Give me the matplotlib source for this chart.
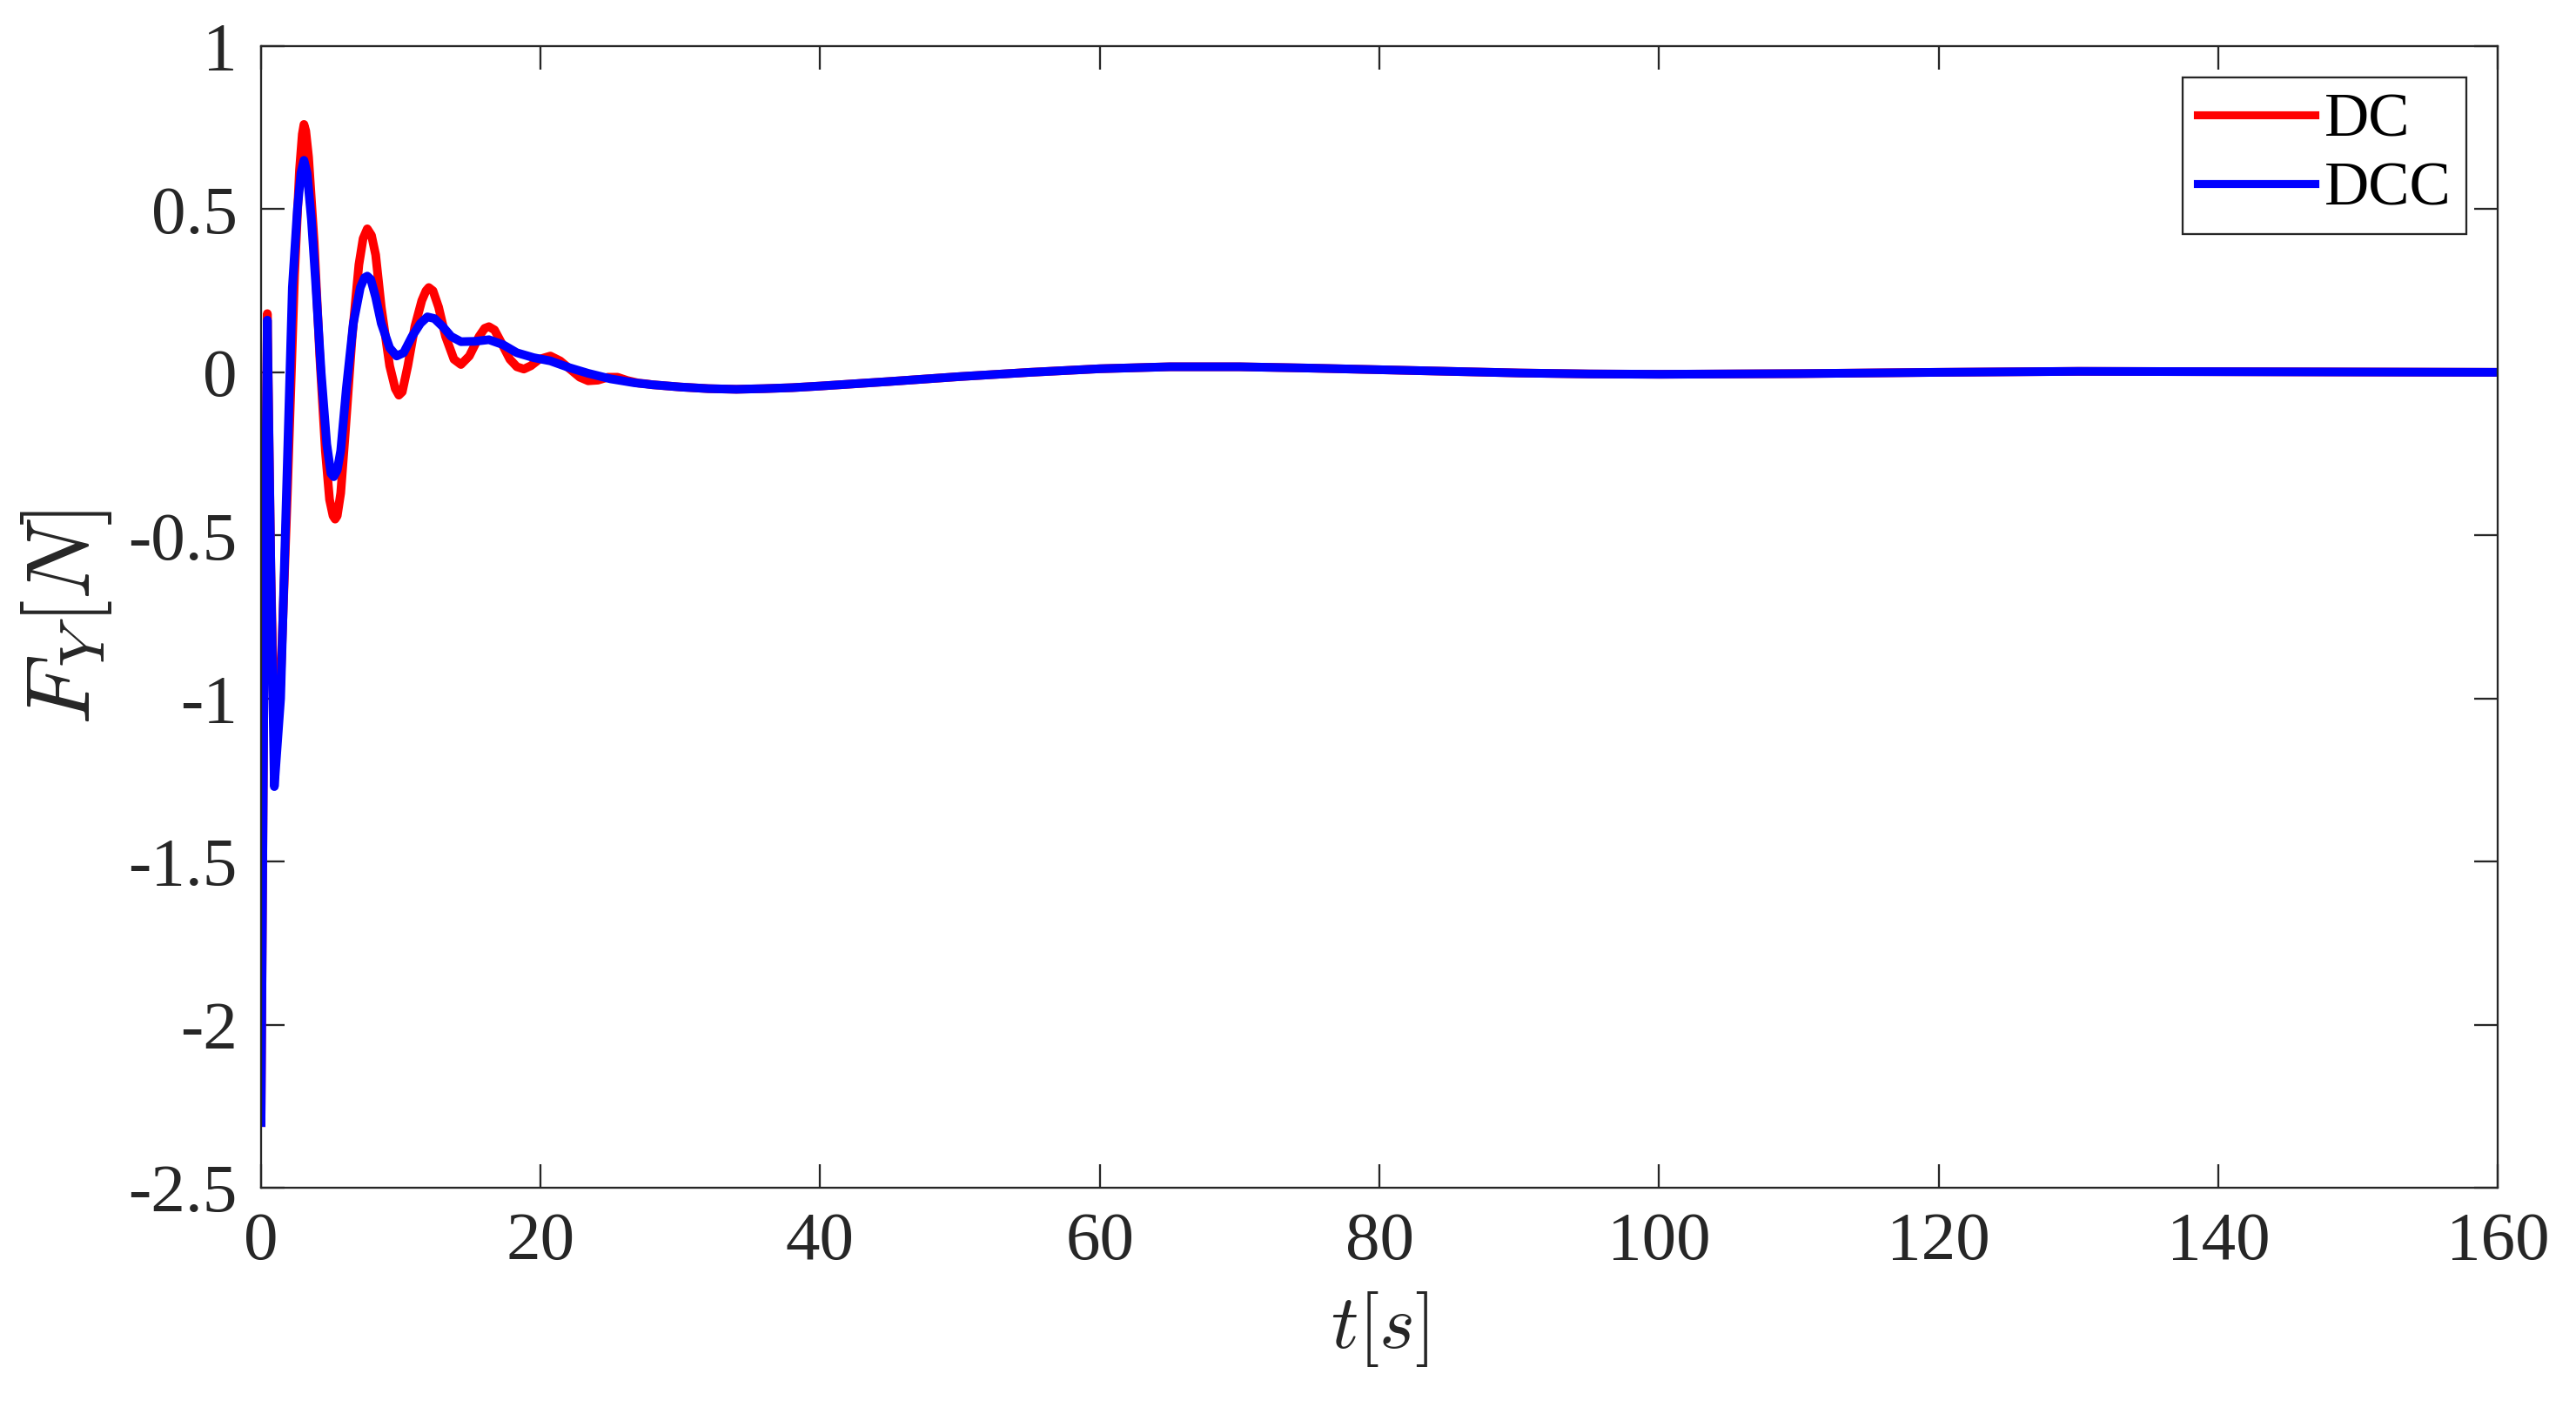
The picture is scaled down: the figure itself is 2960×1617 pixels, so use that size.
import numpy as np
import matplotlib
matplotlib.use("Agg")
import matplotlib.pyplot as plt
from matplotlib.ticker import FuncFormatter

# Start-up transient, DC controller
t_dc = [0, 0.2, 0.45, 0.7, 1.0, 1.4, 1.9, 2.4, 2.75, 2.95, 3.07, 3.2, 3.4, 3.8, 4.2, 4.6,
        4.9, 5.15, 5.3, 5.45, 5.7, 6.0, 6.5, 7.0, 7.3, 7.6, 7.9, 8.2, 8.6, 9.2, 9.6, 9.86,
        10.1, 10.5, 11.0, 11.5, 11.8, 12.0, 12.3, 12.7, 13.2, 13.8, 14.3, 14.9, 15.6, 16.0,
        16.3, 16.7, 17.2, 17.8, 18.3, 18.8, 19.3, 19.9, 20.7, 21.4, 22.1, 22.8, 23.4,
        24.1, 24.8, 25.5, 26.2, 27.0, 27.5]
fy_dc = [-2.30, -1.0, 0.18, -0.6, -1.20, -0.95, -0.35, 0.30, 0.62, 0.73, 0.76, 0.74, 0.66,
         0.40, 0.05, -0.24, -0.39, -0.44, -0.45, -0.44, -0.37, -0.20, 0.10, 0.33, 0.41,
         0.44, 0.42, 0.36, 0.20, 0.02, -0.05, -0.07, -0.06, 0.02, 0.14, 0.22, 0.25, 0.26,
         0.25, 0.20, 0.11, 0.04, 0.024, 0.05, 0.11, 0.135, 0.14, 0.13, 0.09, 0.04, 0.017,
         0.01, 0.02, 0.04, 0.05, 0.035, 0.01, -0.015, -0.026, -0.024, -0.015, -0.015,
         -0.025, -0.033, -0.035]

# Start-up transient, DCC controller
t_dcc = [0, 0.2, 0.45, 0.7, 0.95, 1.4, 1.9, 2.24, 2.6, 2.85, 3.07, 3.3, 3.6, 3.9, 4.3,
         4.7, 5.0, 5.2, 5.45, 5.7, 6.1, 6.6, 7.1, 7.4, 7.6, 7.85, 8.2, 8.6, 9.2, 9.7,
         10.2, 10.8, 11.4, 11.9, 12.4, 13.0, 13.6, 14.3, 15.3, 16.3, 17.3, 18.3, 19.5,
         20.7, 22.0, 23.4, 25.0, 26.7]
fy_dcc = [-2.30, -1.0, 0.16, -0.6, -1.27, -1.0, -0.25, 0.26, 0.50, 0.61, 0.65, 0.61, 0.47,
          0.28, 0.0, -0.22, -0.31, -0.32, -0.30, -0.24, -0.05, 0.15, 0.26, 0.29, 0.295,
          0.285, 0.23, 0.15, 0.075, 0.05, 0.06, 0.11, 0.15, 0.17, 0.165, 0.14, 0.11,
          0.094, 0.095, 0.10, 0.085, 0.06, 0.045, 0.035, 0.015, -0.003, -0.02, -0.032]

# Common slow tail (both curves overlap)
t_tail = [28, 30, 32, 34, 36, 38, 40, 45, 50, 55, 60, 65, 70, 75, 80, 85, 90, 95, 100,
          110, 120, 130, 140, 150, 160]
fy_tail = [-0.038, -0.045, -0.05, -0.052, -0.05, -0.047, -0.042, -0.028, -0.013, 0.0,
           0.011, 0.017, 0.017, 0.013, 0.008, 0.003, -0.002, -0.005, -0.006, -0.004, 0.0,
           0.003, 0.002, 0.001, 0.0]

plt.rcParams['font.family'] = ['Liberation Serif', 'DejaVu Serif']
plt.rcParams['mathtext.fontset'] = 'cm'
plt.rcParams['axes.unicode_minus'] = False

fig = plt.figure(figsize=(2961 / 300, 1617 / 300), dpi=300)
ax = fig.add_axes([0.1013, 0.1558, 0.8680, 0.8114])

dark = '#262626'
ax.plot(t_dc + t_tail, fy_dc + fy_tail, color='#ff0000', lw=2.4, label='DC',
        solid_joinstyle='round')
ax.plot(t_dcc + t_tail, fy_dcc + fy_tail, color='#0000ff', lw=2.4, label='DCC',
        solid_joinstyle='round')

ax.set_xlim(0, 160)
ax.set_ylim(-2.5, 1)
ax.set_xticks(np.arange(0, 161, 20))
ax.set_yticks(np.arange(-2.5, 1.01, 0.5))
ax.yaxis.set_major_formatter(FuncFormatter(lambda v, p: f"{v:g}"))

ax.tick_params(direction='in', length=6.5, width=0.55, colors=dark, labelsize=19,
               top=True, right=True, pad=6.5)
for lbl in ax.get_xticklabels() + ax.get_yticklabels():
    lbl.set_family('Liberation Serif')
for s in ax.spines.values():
    s.set_linewidth(0.55)
    s.set_color(dark)

ax.set_xlabel(r'$t[s]$', fontsize=21, color=dark, labelpad=4.5)
ax.set_ylabel(r'$F_Y[N]$', fontsize=25, color=dark, labelpad=4)

leg = ax.legend(loc='upper right', bbox_to_anchor=(0.986, 0.9726), borderaxespad=0,
                fontsize=17, handlelength=1.9, handletextpad=0.15, labelspacing=0.2,
                borderpad=0.25, fancybox=False, framealpha=1, edgecolor=dark,
                prop={'family': 'Liberation Serif', 'size': 17})
leg.get_frame().set_linewidth(0.55)
for ln in leg.get_lines():
    ln.set_linewidth(2.2)

fig.savefig('out.png', dpi=300)
